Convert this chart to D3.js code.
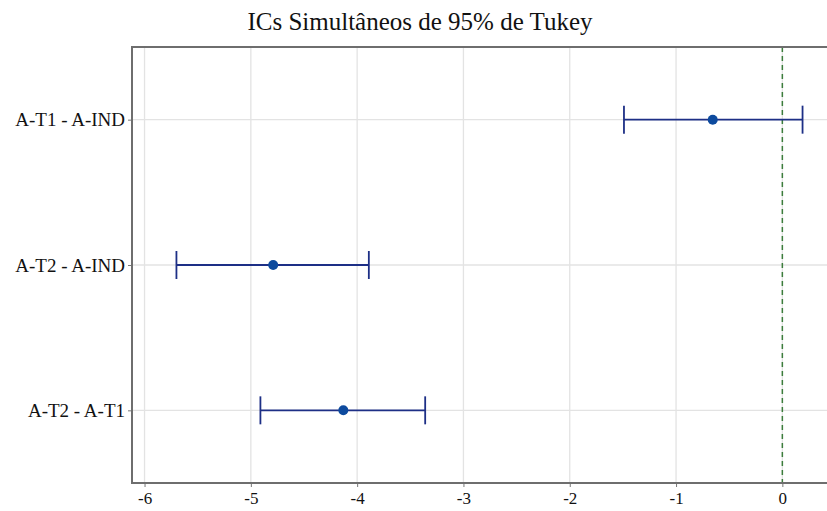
<!DOCTYPE html>
<html>
<head>
<meta charset="utf-8">
<script src="https://cdn.jsdelivr.net/npm/d3@7"></script>
<style>
  body { margin: 0; background: #fff; }
  svg text { font-family: "Liberation Serif", serif; }
</style>
</head>
<body>
<div id="chart"></div>
<script>
// Tukey simultaneous 95% CIs
const comparisons = ["A-T1 - A-IND", "A-T2 - A-IND", "A-T2 - A-T1"];
const centers = [-0.655, -4.79, -4.13];
const lowers = [-1.49, -5.70, -4.91];
const uppers = [0.19, -3.89, -3.36];
const xTicks = [-6, -5, -4, -3, -2, -1, 0];

const width = 827, height = 511;
const margin = { top: 47, right: 0, bottom: 28, left: 132 };

const svg = d3.select("#chart").append("svg")
    .attr("width", width)
    .attr("height", height);

const x = d3.scaleLinear()
    .domain([-6.118, 0.42])
    .range([margin.left, width - margin.right]);

const y = d3.scalePoint()
    .domain(comparisons)
    .range([margin.top, height - margin.bottom])
    .padding(0.5);

// grid
svg.append("g")
    .selectAll("line")
    .data(xTicks)
    .join("line")
    .attr("x1", d => x(d)).attr("x2", d => x(d))
    .attr("y1", margin.top).attr("y2", height - margin.bottom)
    .attr("stroke", "#e3e3e3").attr("stroke-width", 1.3);

svg.append("g")
    .selectAll("line")
    .data(comparisons)
    .join("line")
    .attr("x1", margin.left).attr("x2", width)
    .attr("y1", d => y(d)).attr("y2", d => y(d))
    .attr("stroke", "#e3e3e3").attr("stroke-width", 1.3);

// reference line at zero
svg.append("line")
    .attr("x1", x(0)).attr("x2", x(0))
    .attr("y1", margin.top).attr("y2", height - margin.bottom)
    .attr("stroke", "#3c7d3c").attr("stroke-width", 1.5)
    .attr("stroke-dasharray", "5,4");

// intervals
const rows = comparisons.map((c, i) => ({ c, m: centers[i], lo: lowers[i], hi: uppers[i] }));
const g = svg.append("g").selectAll("g").data(rows).join("g");

g.append("line")
    .attr("x1", d => x(d.lo)).attr("x2", d => x(d.hi))
    .attr("y1", d => y(d.c)).attr("y2", d => y(d.c))
    .attr("stroke", "#1d2f86").attr("stroke-width", 1.8);

g.selectAll("line.cap")
    .data(d => [{ v: d.lo, c: d.c }, { v: d.hi, c: d.c }])
    .join("line")
    .attr("class", "cap")
    .attr("x1", d => x(d.v)).attr("x2", d => x(d.v))
    .attr("y1", d => y(d.c) - 14).attr("y2", d => y(d.c) + 14)
    .attr("stroke", "#1d2f86").attr("stroke-width", 1.8);

g.append("circle")
    .attr("cx", d => x(d.m)).attr("cy", d => y(d.c))
    .attr("r", 5)
    .attr("fill", "#0d4a9e");

// axes
const xAxis = svg.append("g")
    .attr("transform", `translate(0,${height - margin.bottom})`)
    .call(d3.axisBottom(x).tickValues(xTicks).tickFormat(d => String(d))
        .tickSize(4).tickSizeOuter(0).tickPadding(5));
xAxis.select(".domain").remove();
xAxis.selectAll("line").attr("stroke", "#777");
xAxis.selectAll("text").attr("font-size", 17).attr("fill", "#111");

const yAxis = svg.append("g")
    .attr("transform", `translate(${margin.left},0)`)
    .call(d3.axisLeft(y).tickSize(4).tickSizeOuter(0).tickPadding(3));
yAxis.select(".domain").remove();
yAxis.selectAll("line").attr("stroke", "#777");
yAxis.selectAll("text").attr("font-size", 19).attr("fill", "#111");

// panel border (left, top, bottom)
svg.append("path")
    .attr("d", `M${width},${margin.top}H${margin.left}V${height - margin.bottom}H${width}`)
    .attr("fill", "none")
    .attr("stroke", "#6e6e6e")
    .attr("stroke-width", 2);

// title
svg.append("text")
    .attr("x", 420).attr("y", 30)
    .attr("text-anchor", "middle")
    .attr("font-size", 25)
    .attr("fill", "#111")
    .text("ICs Simultâneos de 95% de Tukey");
</script>
</body>
</html>
